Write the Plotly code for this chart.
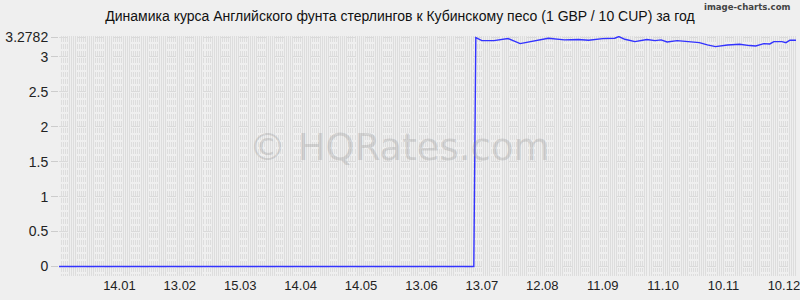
import plotly.graph_objects as go

# ---- data ----
dates = [
    "2020-12-15", "2021-07-09",
    "2021-07-10", "2021-07-13", "2021-07-19", "2021-07-26", "2021-08-01",
    "2021-08-08", "2021-08-15", "2021-08-23", "2021-08-30", "2021-09-04",
    "2021-09-11", "2021-09-17", "2021-09-19", "2021-09-22", "2021-09-27",
    "2021-10-03", "2021-10-07", "2021-10-10", "2021-10-13", "2021-10-18",
    "2021-10-23", "2021-10-29", "2021-11-02", "2021-11-06", "2021-11-12",
    "2021-11-18", "2021-11-23", "2021-11-26", "2021-11-30", "2021-12-03",
    "2021-12-05", "2021-12-09", "2021-12-11", "2021-12-13", "2021-12-16",
]
values = [
    0.0, 0.0,
    3.277, 3.234, 3.234, 3.263, 3.191,
    3.229, 3.268, 3.244, 3.249, 3.239,
    3.263, 3.268, 3.292, 3.253, 3.220,
    3.249, 3.234, 3.244, 3.215, 3.234,
    3.220, 3.205, 3.172, 3.148, 3.172,
    3.182, 3.163, 3.158, 3.191, 3.186,
    3.220, 3.220, 3.205, 3.239, 3.239,
]

x_tick_vals = ["2021-01-14", "2021-02-13", "2021-03-15", "2021-04-14", "2021-05-14",
               "2021-06-13", "2021-07-13", "2021-08-12", "2021-09-11", "2021-10-11",
               "2021-11-10", "2021-12-10"]
x_tick_text = ["14.01", "13.02", "15.03", "14.04", "14.05", "13.06", "13.07",
               "12.08", "11.09", "11.10", "10.11", "10.12"]
y_tick_vals = [0, 0.5, 1, 1.5, 2, 2.5, 3, 3.2782]
y_tick_text = ["0", "0.5", "1", "1.5", "2", "2.5", "3", "3.2782"]

title = "Динамика курса Английского фунта стерлингов к Кубинскому песо (1 GBP / 10 CUP) за год"

BG = "#efefef"

fig = go.Figure()
fig.add_trace(go.Scatter(
    x=dates, y=values, mode="lines",
    line=dict(color="#3333ff", width=1.4),
    hoverinfo="skip", showlegend=False,
))

fig.update_layout(
    width=800, height=300,
    margin=dict(l=59, r=0, t=36, b=24),
    paper_bgcolor=BG, plot_bgcolor=BG,
    font=dict(family="Liberation Sans, Arial, sans-serif", size=13, color="#222"),
    title=dict(text=title, x=0.5, xanchor="center", y=0.945, yanchor="middle",
               font=dict(size=14, color="#111")),
)

fig.update_xaxes(
    type="date",
    range=["2020-12-15", "2021-12-16 12:00"],
    tickmode="array", tickvals=x_tick_vals, ticktext=x_tick_text,
    ticklabeloverflow="allow",
    showgrid=False, ticks="", zeroline=False, showline=False,
    tickfont=dict(size=13, color="#222"),
    minor=dict(tickmode="linear", tick0="2020-12-15", dtick=86400000,
               showgrid=True, gridcolor="#dddddd", gridwidth=1, ticks=""),
)
fig.update_yaxes(
    range=[-0.136, 3.30],
    tickmode="array", tickvals=y_tick_vals, ticktext=y_tick_text,
    showgrid=True, gridcolor="#dadada", gridwidth=1, griddash="dash",
    ticks="outside", ticklen=7, tickcolor="#cccccc",
    zeroline=False, showline=False,
    tickfont=dict(size=14, color="#222"),
    minor=dict(tickmode="linear", tick0=0, dtick=0.1,
               showgrid=True, gridcolor=BG, gridwidth=2, ticks=""),
)

fig.add_annotation(
    text="© HQRates.com", x=(401 - 59) / 741, y=(276 - 147) / 240,
    xref="paper", yref="paper",
    xanchor="center", yanchor="middle", showarrow=False,
    font=dict(family="DejaVu Sans, sans-serif", size=37, color="rgba(150,150,150,0.32)"),
)
fig.add_annotation(
    text="<b>image-charts.com</b>", x=(796 - 59) / 741, y=(276 - 7) / 240,
    xref="paper", yref="paper", xanchor="right", yanchor="middle",
    showarrow=False,
    font=dict(size=9.5, color="#444", family="DejaVu Sans Condensed, sans-serif"),
)

fig.write_html("out.html")
